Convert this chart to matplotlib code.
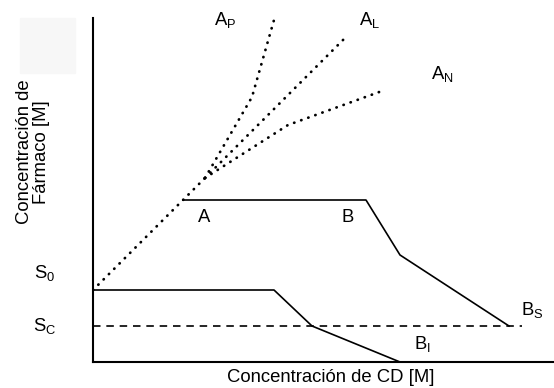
import matplotlib
matplotlib.use("Agg")
import matplotlib.pyplot as plt
from matplotlib.patches import Rectangle

plt.rcParams['font.family'] = ['Liberation Sans', 'DejaVu Sans']
plt.rcParams['mathtext.fontset'] = 'custom'
plt.rcParams['mathtext.rm'] = 'Liberation Sans'
plt.rcParams['mathtext.it'] = 'Liberation Sans'

# Data (arbitrary concentration units)
S0 = 72
SC = 36
ST = 324

origin_x = [0, 112]
origin_y = [72, 184]
ap_x = [112, 159, 181]
ap_y = [184, 265, 342]
al_x = [112, 251]
al_y = [184, 323]
an_x = [112, 195, 289]
an_y = [184, 237, 271]

bs_x = [90, 273, 307, 416]
bs_y = [162, 162, 107, 36]
bi_x = [0, 181, 219, 307]
bi_y = [72, 72, 36, 0]
sc_x = [0, 429]

fig = plt.figure(figsize=(5.54, 3.88), dpi=100)
ax = fig.add_axes([93/554, 26/388, 460/554, 344/388])
ax.set_xlim(0, 460)
ax.set_ylim(0, 344)
for s in ['top', 'right']:
    ax.spines[s].set_visible(False)
for s in ['left', 'bottom']:
    ax.spines[s].set_linewidth(1.5)
ax.set_xticks([])
ax.set_yticks([])
ax.patch.set_alpha(0)

fig.patches.append(Rectangle((20/554, 1 - 73/388), 55/554, 55/388,
                             transform=fig.transFigure, color='#f7f7f7', zorder=0))

dot = dict(color='black', lw=2.0, linestyle=(0, (0.1, 2.6)), dash_capstyle='round')
ax.plot(origin_x, origin_y, **dot)
ax.plot(ap_x, ap_y, **dot)
ax.plot(al_x, al_y, **dot)
ax.plot(an_x, an_y, **dot)

ax.plot(bs_x, bs_y, color='black', lw=1.2)
ax.plot(bi_x, bi_y, color='black', lw=1.2)
ax.plot(sc_x, [SC, SC], color='black', lw=1.2, linestyle=(0, (4.5, 3.5)))

fs = 13.3
ax.text(132, 342, r'A$_\mathrm{P}$', fontsize=fs, ha='center', va='center')
ax.text(277, 342, r'A$_\mathrm{L}$', fontsize=fs, ha='center', va='center')
ax.text(349, 288, r'A$_\mathrm{N}$', fontsize=fs, ha='center', va='center')
ax.text(111, 145, 'A', fontsize=fs, ha='center', va='center')
ax.text(255, 145, 'B', fontsize=fs, ha='center', va='center')
ax.text(439, 52, r'B$_\mathrm{S}$', fontsize=fs, ha='center', va='center')
ax.text(329, 18, r'B$_\mathrm{I}$', fontsize=fs, ha='center', va='center')
ax.text(-48, 89, r'S$_\mathrm{0}$', fontsize=fs, ha='center', va='center', clip_on=False)
ax.text(-48, SC, r'S$_\mathrm{C}$', fontsize=fs, ha='center', va='center', clip_on=False)
ax.text(-53, ST, r'S$_\mathrm{t}$', fontsize=fs, ha='center', va='center', clip_on=False)

fig.text(331/554, 1 - 377/388, 'Concentración de CD [M]', fontsize=fs, ha='center', va='center')
fig.text(33/554, 1 - 152/388, 'Concentración de\nFármaco [M]', fontsize=fs, ha='center',
         va='center', rotation=90, linespacing=1.0)

fig.savefig('out.png', dpi=100)
